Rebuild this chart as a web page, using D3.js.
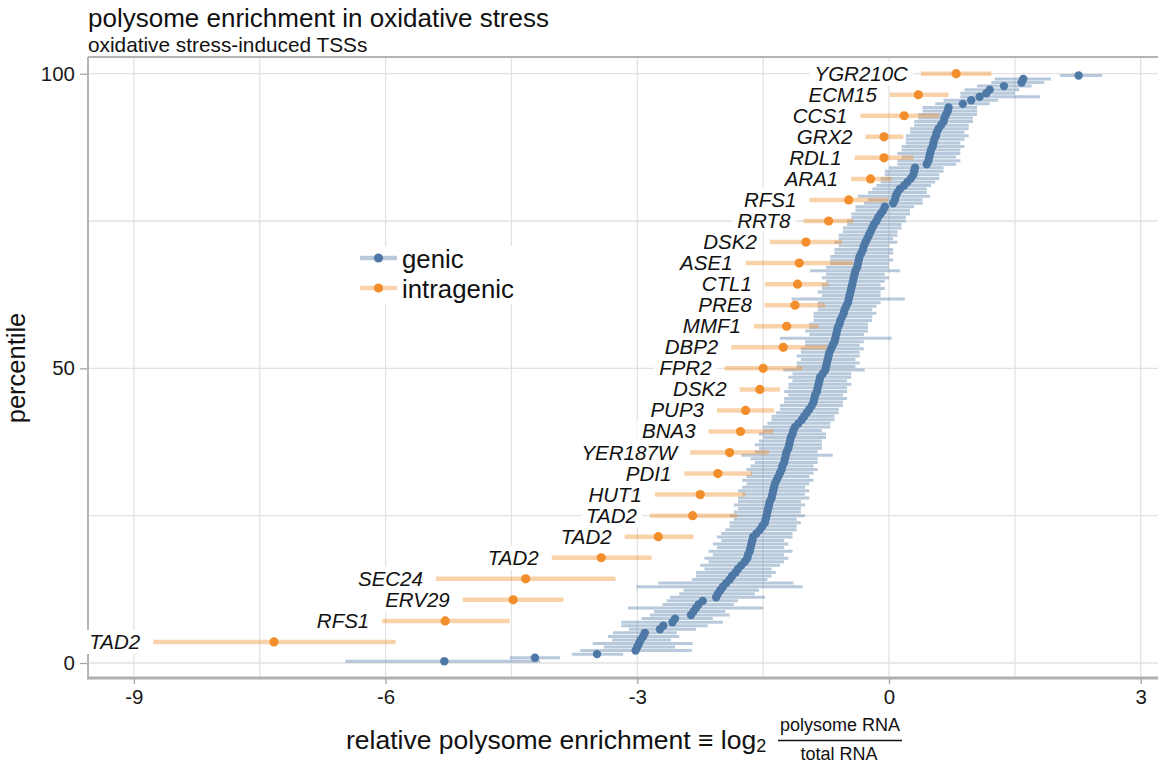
<!DOCTYPE html>
<html><head><meta charset="utf-8">
<script src="https://cdn.jsdelivr.net/npm/d3@7"></script>
<style>body{margin:0;background:#fff}svg{display:block}text{font-family:"Liberation Sans",Arial,Helvetica,sans-serif}</style>
</head><body>
<script>
// ---------- DATA ----------
// intragenic TSSs (top to bottom)
const intraNames = ["YGR210C","ECM15","CCS1","GRX2","RDL1","ARA1","RFS1","RRT8","DSK2","ASE1","CTL1","PRE8","MMF1","DBP2","FPR2","DSK2","PUP3","BNA3","YER187W","PDI1","HUT1","TAD2","TAD2","TAD2","SEC24","ERV29","RFS1","TAD2"];
const intraX  = [0.80,0.35,0.18,-0.06,-0.06,-0.22,-0.48,-0.72,-0.99,-1.07,-1.09,-1.12,-1.22,-1.26,-1.50,-1.54,-1.71,-1.77,-1.90,-2.04,-2.25,-2.34,-2.75,-3.43,-4.33,-4.48,-5.29,-7.33];
const intraLo = [0.38,0.01,-0.34,-0.28,-0.41,-0.45,-0.95,-1.02,-1.42,-1.71,-1.48,-1.48,-1.61,-1.88,-1.96,-1.78,-2.05,-2.15,-2.37,-2.44,-2.79,-2.85,-3.15,-4.02,-5.40,-5.08,-6.04,-8.77];
const intraHi = [1.22,0.71,0.60,0.17,0.29,0.03,-0.01,-0.43,-0.56,-0.43,-0.72,-0.76,-0.84,-0.74,-1.03,-1.30,-1.37,-1.38,-1.43,-1.63,-1.71,-1.81,-2.33,-2.83,-3.26,-3.88,-4.52,-5.88];

// genic TSSs (ascending)
const genicX = [-5.30,-4.22,-3.48,-3.02,-3.00,-2.98,-2.96,-2.93,-2.91,-2.73,
-2.69,-2.58,-2.55,-2.36,-2.33,-2.30,-2.27,-2.22,-2.06,-2.04,
-2.01,-1.98,-1.94,-1.90,-1.87,-1.83,-1.80,-1.76,-1.72,-1.69,
-1.68,-1.66,-1.65,-1.64,-1.63,-1.62,-1.58,-1.54,-1.51,-1.48,
-1.47,-1.46,-1.45,-1.44,-1.43,-1.42,-1.40,-1.39,-1.38,-1.37,
-1.36,-1.34,-1.32,-1.30,-1.28,-1.27,-1.25,-1.24,-1.23,-1.22,
-1.20,-1.19,-1.18,-1.17,-1.15,-1.14,-1.12,-1.08,-1.04,-1.01,
-0.98,-0.95,-0.92,-0.90,-0.89,-0.88,-0.86,-0.85,-0.84,-0.83,
-0.82,-0.79,-0.76,-0.75,-0.74,-0.73,-0.72,-0.71,-0.69,-0.67,
-0.65,-0.64,-0.63,-0.62,-0.61,-0.59,-0.58,-0.56,-0.54,-0.53,
-0.51,-0.49,-0.48,-0.47,-0.46,-0.45,-0.44,-0.43,-0.42,-0.41,
-0.40,-0.38,-0.37,-0.36,-0.35,-0.33,-0.31,-0.30,-0.28,-0.26,
-0.24,-0.22,-0.20,-0.18,-0.15,-0.13,-0.10,-0.07,-0.05,0.05,
0.07,0.08,0.10,0.13,0.18,0.22,0.26,0.29,0.30,0.31,
0.45,0.47,0.48,0.49,0.50,0.52,0.53,0.54,0.56,0.57,
0.59,0.62,0.65,0.66,0.68,0.70,0.71,0.88,0.98,1.08,
1.16,1.20,1.37,1.58,1.60,2.26];
const genicLo = [-6.48,-4.52,-3.78,-3.68,-3.40,-3.53,-3.30,-3.35,-3.29,-3.10,
-3.19,-3.19,-2.95,-2.85,-2.80,-3.11,-2.70,-2.65,-2.61,-2.50,
-2.45,-3.01,-2.75,-2.35,-2.30,-2.30,-2.20,-2.25,-2.15,-2.20,
-2.10,-2.15,-2.05,-2.10,-2.00,-2.05,-2.00,-1.95,-1.90,-1.90,
-1.85,-1.90,-1.85,-1.80,-1.85,-1.80,-1.80,-1.75,-1.80,-1.75,
-1.70,-1.75,-1.70,-1.65,-1.70,-1.65,-1.60,-1.65,-1.76,-1.60,
-1.55,-1.60,-1.55,-1.50,-1.55,-1.50,-1.50,-1.45,-1.40,-1.40,
-1.35,-1.30,-1.30,-1.25,-1.25,-1.20,-1.25,-1.20,-1.20,-1.15,
-1.20,-1.15,-1.26,-1.10,-1.10,-1.05,-1.10,-1.05,-1.05,-1.00,
-1.00,-1.30,-0.95,-1.00,-0.95,-0.95,-0.90,-0.90,-0.90,-0.85,
-0.85,-0.85,-1.16,-0.80,-0.85,-0.80,-0.80,-0.75,-0.80,-0.75,
-0.94,-0.75,-0.70,-0.70,-0.70,-0.65,-0.65,-0.60,-0.65,-0.60,
-0.60,-0.55,-0.55,-0.50,-0.50,-0.45,-0.45,-0.40,-0.40,-0.30,
-0.25,-0.37,-0.25,-0.20,-0.15,-0.10,-0.10,-0.05,-0.05,0.00,
0.10,0.10,0.15,0.10,0.15,0.15,0.20,0.20,0.20,0.25,
0.25,0.30,0.30,0.35,0.35,0.40,0.40,0.55,0.65,0.85,
0.85,0.90,1.05,1.22,1.26,2.04];
const genicHi = [-4.16,-3.92,-3.17,-2.35,-2.55,-2.34,-2.60,-2.50,-2.53,-2.30,
-2.16,-1.98,-2.10,-1.90,-1.95,-1.50,-1.85,-1.80,-1.48,-1.60,
-1.55,-1.03,-1.14,-1.45,-1.40,-1.35,-1.40,-1.30,-1.25,-1.20,
-1.25,-1.15,-1.25,-1.20,-1.25,-1.15,-1.15,-1.10,-1.10,-1.05,
-1.10,-1.00,-1.05,-1.05,-1.00,-1.05,-0.95,-1.00,-0.95,-1.00,
-0.95,-0.90,-0.95,-0.90,-0.85,-0.90,-0.85,-0.85,-0.67,-0.85,
-0.80,-0.80,-0.80,-0.75,-0.75,-0.80,-0.70,-0.70,-0.65,-0.65,
-0.60,-0.60,-0.55,-0.55,-0.50,-0.55,-0.50,-0.50,-0.45,-0.50,
-0.45,-0.45,-0.29,-0.40,-0.35,-0.40,-0.35,-0.35,-0.30,-0.35,
-0.30,0.03,-0.30,-0.25,-0.25,-0.25,-0.20,-0.20,-0.15,-0.20,
-0.15,-0.10,0.19,-0.10,-0.10,-0.05,-0.10,-0.05,0.00,-0.05,
0.13,0.00,0.00,0.05,0.00,0.05,0.05,0.00,0.10,0.05,
0.10,0.10,0.15,0.15,0.20,0.20,0.25,0.25,0.30,0.40,
0.40,0.49,0.45,0.45,0.50,0.55,0.60,0.60,0.65,0.65,
0.80,0.85,0.80,0.85,0.85,0.90,0.85,0.90,0.95,0.90,
0.95,0.95,1.00,1.00,1.05,1.05,1.05,1.20,1.30,1.80,
1.50,1.55,1.70,1.85,1.93,2.54];

const xMajor = [-9,-6,-3,0,3];
const xMinor = [-7.5,-4.5,-1.5,1.5];
const yMajor = [0,50,100];
const yMinor = [25,75];
const seriesNames = ["genic","intragenic"];
const seriesColors = ["#4e79a7","#f28e2b"];

// ---------- CHART ----------
const W = 1158, H = 763;
const L = 88, R = 1158, T = 57, B = 678;
const x = d3.scaleLinear().domain([-9.547, 3.206]).range([L, R]);
const y = d3.scaleLinear().domain([-2.545, 102.83]).range([B, T]);

const svg = d3.select("body").append("svg").attr("width", W).attr("height", H);

const nG = genicX.length;
const genic = genicX.map((v,i)=>({x:v, lo:genicLo[i], hi:genicHi[i], p:100*(i+0.5)/nG}));
const nI = intraX.length;
const intra = intraX.map((v,i)=>({name:intraNames[i], x:v, lo:intraLo[i], hi:intraHi[i], p:100*(nI-i)/nI}));

// gridlines
const grid = svg.append("g");
grid.selectAll(".vx").data(xMajor.concat(xMinor)).join("line")
  .attr("x1", d=>x(d)).attr("x2", d=>x(d)).attr("y1", T).attr("y2", B)
  .attr("stroke", "#e2e2e2").attr("stroke-width", 1.3);
grid.selectAll(".hy").data(yMajor.concat(yMinor)).join("line")
  .attr("x1", L).attr("x2", R).attr("y1", d=>y(d)).attr("y2", d=>y(d))
  .attr("stroke", "#e2e2e2").attr("stroke-width", 1.3);

// frame
svg.append("line").attr("x1", L).attr("x2", R).attr("y1", T).attr("y2", T).attr("stroke", "#b5b5b5").attr("stroke-width", 2);
svg.append("line").attr("x1", L).attr("x2", L).attr("y1", T).attr("y2", B).attr("stroke", "#b5b5b5").attr("stroke-width", 2);
svg.append("line").attr("x1", L-1).attr("x2", R).attr("y1", B).attr("y2", B).attr("stroke", "#b0b0b0").attr("stroke-width", 3);

// axes
const xAxis = svg.append("g").attr("transform", `translate(0,${B+1})`)
  .call(d3.axisBottom(x).tickValues(xMajor).tickFormat(d=>String(d)).tickSize(5).tickPadding(5));
xAxis.select(".domain").remove();
xAxis.selectAll("line").attr("stroke", "#a5a5a5").attr("stroke-width", 1.3);
xAxis.selectAll("text").attr("font-size", 20.5).attr("fill", "#1a1a1a").attr("font-family", "Liberation Sans, Arial");

const yAxis = svg.append("g").attr("transform", `translate(${L-1},0)`)
  .call(d3.axisLeft(y).tickValues(yMajor).tickFormat(d=>String(d)).tickSize(7).tickPadding(5));
yAxis.select(".domain").remove();
yAxis.selectAll("line").attr("stroke", "#a5a5a5").attr("stroke-width", 1.3);
yAxis.selectAll("text").attr("font-size", 20.5).attr("fill", "#1a1a1a").attr("font-family", "Liberation Sans, Arial");

// label boxes (drawn under marks)
const labG = svg.append("g");

// error bars
svg.append("g").selectAll("line").data(genic).join("line")
  .attr("x1", d=>x(d.lo)).attr("x2", d=>x(d.hi)).attr("y1", d=>y(d.p)).attr("y2", d=>y(d.p))
  .attr("stroke", seriesColors[0]).attr("stroke-opacity", 0.4).attr("stroke-width", 3);
svg.append("g").selectAll("line").data(intra).join("line")
  .attr("x1", d=>x(d.lo)).attr("x2", d=>x(d.hi)).attr("y1", d=>y(d.p)).attr("y2", d=>y(d.p))
  .attr("stroke", seriesColors[1]).attr("stroke-opacity", 0.4).attr("stroke-width", 4.5);

// points
svg.append("g").selectAll("circle").data(genic).join("circle")
  .attr("cx", d=>x(d.x)).attr("cy", d=>y(d.p)).attr("r", 4.2).attr("fill", seriesColors[0]);
svg.append("g").selectAll("circle").data(intra).join("circle")
  .attr("cx", d=>x(d.x)).attr("cy", d=>y(d.p)).attr("r", 4.6).attr("fill", seriesColors[1]);

// labels
intra.forEach(d=>{
  const t = labG.append("text").attr("x", x(d.lo)-13).attr("y", y(d.p)+7)
    .attr("text-anchor", "end").attr("font-size", 20.5).attr("font-style", "italic")
    .attr("fill", "#111").text(d.name);
  const bb = t.node().getBBox();
  labG.insert("rect", "text").attr("x", bb.x-5).attr("y", y(d.p)-12).attr("width", bb.width+10).attr("height", 24).attr("fill", "#fff");
});

// legend
const lg = svg.append("g");
lg.append("rect").attr("x", 356).attr("y", 246).attr("width", 166).attr("height", 58).attr("fill", "#fff");
seriesNames.forEach((s,i)=>{
  const cy = 258 + i*30;
  lg.append("line").attr("x1", 360).attr("x2", 397).attr("y1", cy).attr("y2", cy)
    .attr("stroke", seriesColors[i]).attr("stroke-opacity", 0.4).attr("stroke-width", 4.5);
  lg.append("circle").attr("cx", 378.5).attr("cy", cy).attr("r", 4.6).attr("fill", seriesColors[i]);
  lg.append("text").attr("x", 402).attr("y", cy+10).attr("font-size", 25.8).attr("fill", "#111").text(s);
});

// titles
svg.append("text").attr("x", 88).attr("y", 27).attr("font-size", 26).attr("fill", "#111").text("polysome enrichment in oxidative stress");
svg.append("text").attr("x", 88).attr("y", 52).attr("font-size", 20.8).attr("fill", "#111").text("oxidative stress-induced TSSs");

svg.append("text").attr("transform", "translate(25,368) rotate(-90)").attr("text-anchor", "middle")
  .attr("font-size", 25.5).attr("fill", "#111").text("percentile");

// x axis title with fraction
const xt = svg.append("text").attr("x", 346).attr("y", 749).attr("font-size", 26.5).attr("fill", "#111");
xt.append("tspan").text("relative polysome enrichment \u2261 log");
xt.append("tspan").attr("font-size", 18).attr("dy", 3).text("2");
svg.append("text").attr("x", 840).attr("y", 731).attr("text-anchor", "middle").attr("font-size", 18).attr("fill", "#111").text("polysome RNA");
svg.append("line").attr("x1", 778).attr("x2", 902).attr("y1", 740.5).attr("y2", 740.5).attr("stroke", "#111").attr("stroke-width", 1.6);
svg.append("text").attr("x", 839).attr("y", 760).attr("text-anchor", "middle").attr("font-size", 18).attr("fill", "#111").text("total RNA");
</script>
</body></html>
